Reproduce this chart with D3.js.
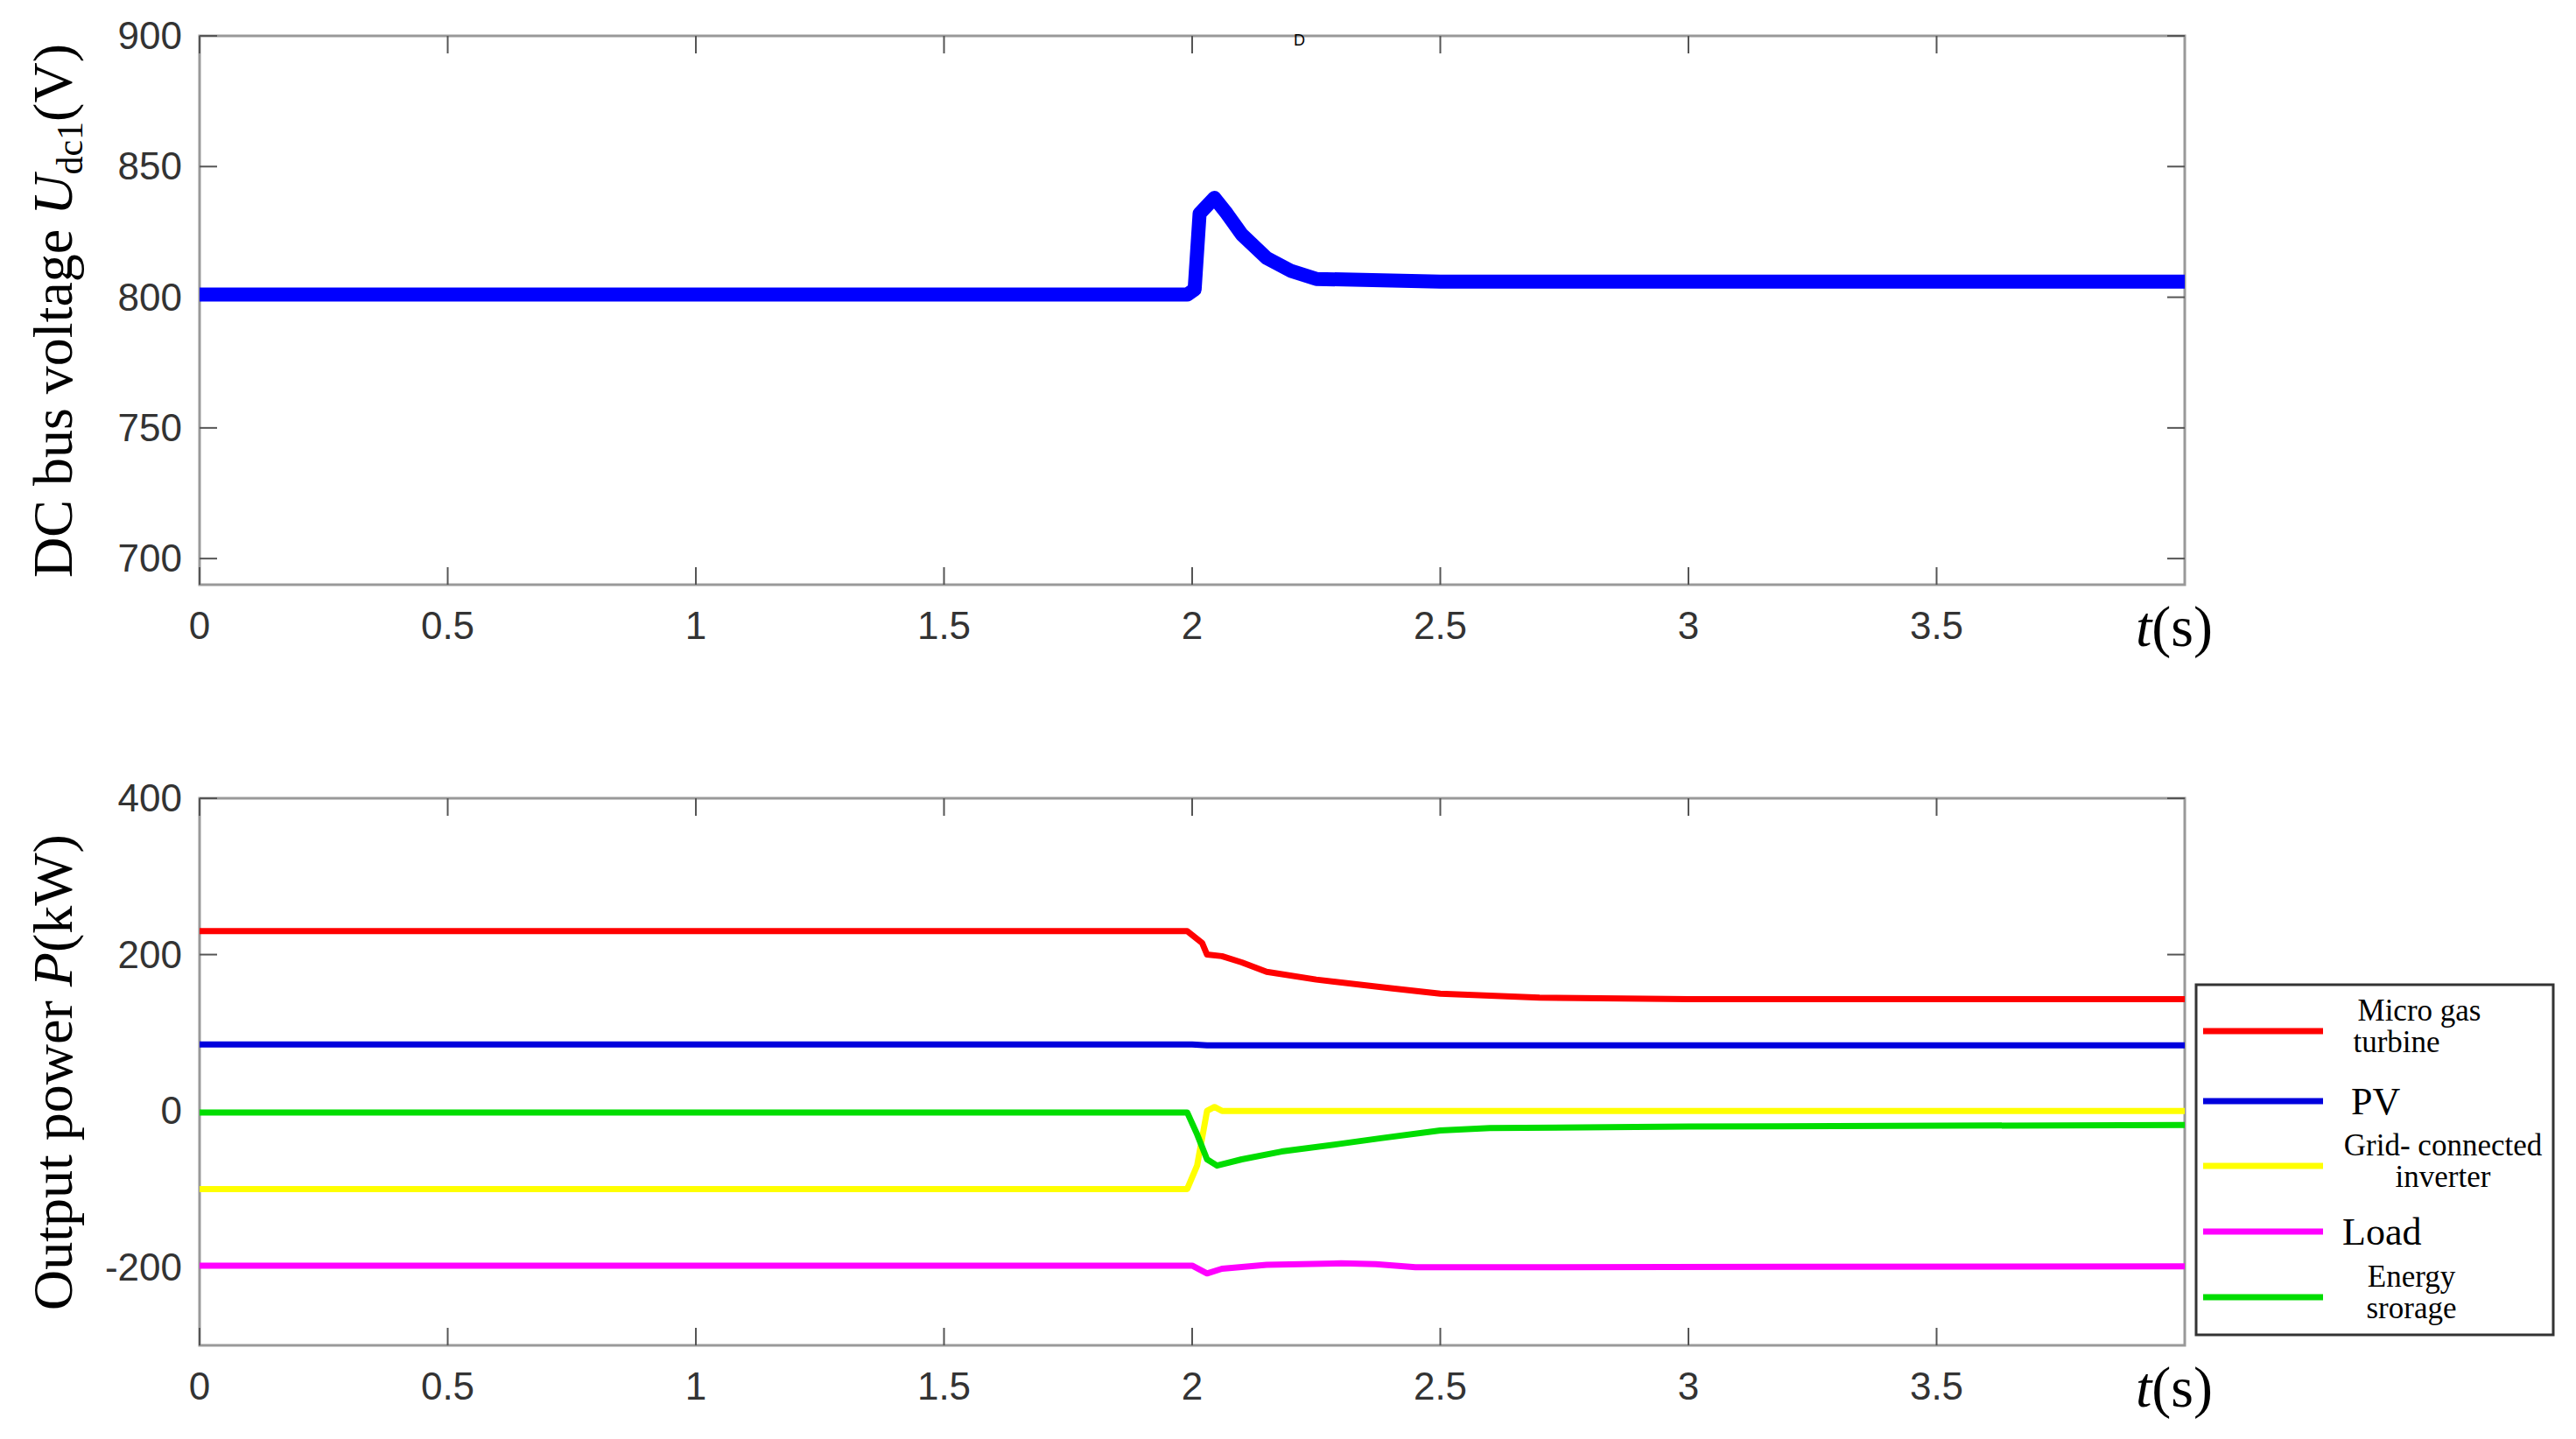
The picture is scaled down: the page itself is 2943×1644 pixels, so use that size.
<!DOCTYPE html>
<html><head><meta charset="utf-8">
<script src="https://cdn.jsdelivr.net/npm/d3@7"></script>
<style>body{margin:0;background:#fff}</style></head>
<body><svg id="c" width="2943" height="1644"></svg>
<script>
// x ticks shared by both panels
const xTicks = [0, 0.5, 1, 1.5, 2, 2.5, 3, 3.5];
const voltTicks = [700, 750, 800, 850, 900];
const powerTicks = [-200, 0, 200, 400];

// DC bus voltage [t, V]
const udc = [[0,801],[0.5,801],[1,801],[1.5,801],[1.99,801],[2.005,803],[2.015,832],[2.03,835],[2.045,838],[2.07,832],[2.1,824],[2.15,815],[2.2,810],[2.25,807],[2.5,806],[3,806],[3.5,806],[4,806]];

// output powers [t, kW]
const gasTurbine = [[0,230],[1,230],[1.99,230],[2.02,215],[2.03,200],[2.06,198],[2.1,190],[2.15,178],[2.25,168],[2.4,157],[2.5,150],[2.7,145],[3,143],[4,143]];
const pv = [[0,85],[2,85],[2.03,84],[4,84]];
const gridInverter = [[0,-100],[1.99,-100],[2.01,-70],[2.03,0],[2.045,5],[2.06,0],[4,0]];
const load = [[0,-198],[2,-198],[2.03,-208],[2.06,-202],[2.15,-197],[2.3,-195],[2.37,-196],[2.45,-200],[2.6,-200],[4,-199]];
const energyStorage = [[0,-2],[1.99,-2],[2.01,-30],[2.03,-62],[2.05,-70],[2.1,-62],[2.18,-52],[2.3,-42],[2.38,-35],[2.5,-25],[2.6,-22],[3,-20],[4,-18]];

const series = [
  {name: ["Micro gas", "turbine"], data: gasTurbine, color: "#ff0000"},
  {name: ["PV"], data: pv, color: "#0000dd"},
  {name: ["Grid- connected", "inverter"], data: gridInverter, color: "#ffff00"},
  {name: ["Load"], data: load, color: "#ff00ff"},
  {name: ["Energy", "srorage"], data: energyStorage, color: "#00dd00"}
];

const svg = d3.select("#c");
const left = 228, right = 2496;
const x = d3.scaleLinear().domain([0, 4]).range([left, right]);
const serif = "Liberation Serif, Times New Roman";

function panel(top, bottom, domain, ticks) {
  const y = d3.scaleLinear().domain(domain).range([bottom, top]);
  const g = svg.append("g");
  g.append("rect").attr("x", left).attr("y", top).attr("width", right - left).attr("height", bottom - top)
    .attr("fill", "none").attr("stroke", "#999").attr("stroke-width", 3);
  const tk = 20;
  xTicks.forEach(t => {
    g.append("line").attr("x1", x(t)).attr("x2", x(t)).attr("y1", bottom).attr("y2", bottom - tk).attr("stroke", "#555").attr("stroke-width", 2);
    g.append("line").attr("x1", x(t)).attr("x2", x(t)).attr("y1", top).attr("y2", top + tk).attr("stroke", "#555").attr("stroke-width", 2);
    g.append("text").attr("x", x(t)).attr("y", bottom + 62).attr("text-anchor", "middle")
      .attr("font-family", "Liberation Sans, Arial").attr("font-size", 44).attr("fill", "#333").text(t);
  });
  ticks.forEach(v => {
    g.append("line").attr("x1", left).attr("x2", left + tk).attr("y1", y(v)).attr("y2", y(v)).attr("stroke", "#555").attr("stroke-width", 2);
    g.append("line").attr("x1", right).attr("x2", right - tk).attr("y1", y(v)).attr("y2", y(v)).attr("stroke", "#555").attr("stroke-width", 2);
    g.append("text").attr("x", left - 20).attr("y", y(v) + 15).attr("text-anchor", "end")
      .attr("font-family", "Liberation Sans, Arial").attr("font-size", 44).attr("fill", "#333").text(v);
  });
  const t = g.append("text").attr("x", 2440).attr("y", bottom + 70).attr("font-family", serif).attr("font-size", 66);
  t.append("tspan").attr("font-style", "italic").text("t");
  t.append("tspan").text("(s)");
  return y;
}

const line = y => d3.line().x(d => x(d[0])).y(d => y(d[1]));

// top panel
const y1 = panel(41, 668, [690, 900], voltTicks);
svg.append("path").datum(udc).attr("d", line(y1)).attr("fill", "none").attr("stroke", "#0000ff").attr("stroke-width", 16).attr("stroke-linejoin", "round");
const l1 = svg.append("text").attr("transform", "translate(82,355) rotate(-90)").attr("text-anchor", "middle")
  .attr("font-family", serif).attr("font-size", 64);
l1.append("tspan").text("DC bus voltage ");
l1.append("tspan").attr("font-style", "italic").text("U");
l1.append("tspan").attr("font-size", 42).attr("dy", 12).text("dc1");
l1.append("tspan").attr("dy", -12).text("(V)");
svg.append("text").attr("x", 1478).attr("y", 52).attr("font-family", "Liberation Sans").attr("font-size", 18).text("D");

// bottom panel
const y2 = panel(912, 1537, [-300, 400], powerTicks);
series.forEach(s => {
  svg.append("path").datum(s.data).attr("d", line(y2)).attr("fill", "none").attr("stroke", s.color).attr("stroke-width", 7).attr("stroke-linejoin", "round");
});
const l2 = svg.append("text").attr("transform", "translate(82,1225) rotate(-90)").attr("text-anchor", "middle")
  .attr("font-family", serif).attr("font-size", 64);
l2.append("tspan").text("Output power ");
l2.append("tspan").attr("font-style", "italic").text("P");
l2.append("tspan").text("(kW)");

// legend
const lg = svg.append("g").attr("transform", "translate(2509,1125)");
lg.append("rect").attr("width", 408).attr("height", 400).attr("fill", "#fff").attr("stroke", "#333").attr("stroke-width", 3);
const rowY = [53, 133, 207, 282, 357];
const labelX = [255, 177, 282, 167, 246];
series.forEach((s, i) => {
  lg.append("line").attr("x1", 8).attr("x2", 145).attr("y1", rowY[i]).attr("y2", rowY[i]).attr("stroke", s.color).attr("stroke-width", 7);
  const multi = s.name.length > 1;
  s.name.forEach((n, j) => {
    const lx = multi ? labelX[i] - (i === 0 && j ? 26 : 0) : labelX[i];
    lg.append("text").attr("x", lx)
      .attr("y", multi ? rowY[i] - 12 + j * 36 : rowY[i] + 15)
      .attr("text-anchor", multi ? "middle" : "start")
      .attr("font-family", serif).attr("font-size", multi ? 35 : 44).text(n);
  });
});
</script></body></html>
